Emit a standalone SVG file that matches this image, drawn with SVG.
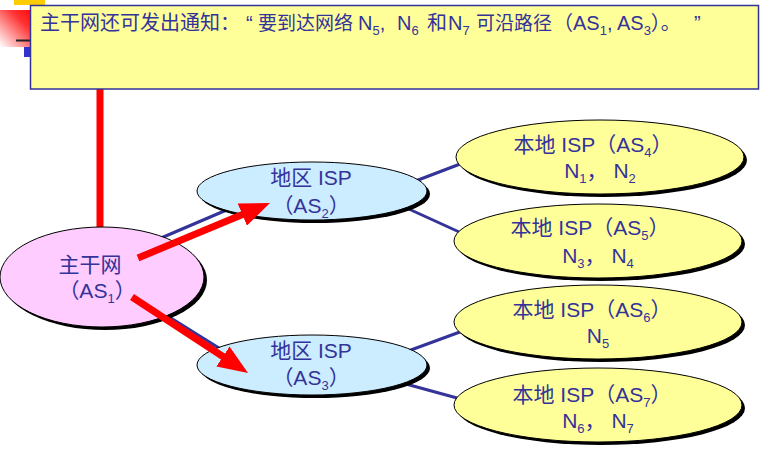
<svg xmlns="http://www.w3.org/2000/svg" width="776" height="461" viewBox="0 0 776 461">
<defs>
<style>
.t{font-family:"Liberation Sans","Noto Sans CJK SC",sans-serif;fill:#333399;}
.e{font-size:21px;text-anchor:middle;}
.sub{font-size:13px;}
.shadow{fill:#000;}
.node{stroke:#000;stroke-width:1;}
.conn{stroke:#333399;stroke-width:3;fill:none;}
.arrow{stroke:#FF0000;stroke-width:7;fill:none;marker-end:url(#ah);}
</style>
<marker id="ah" markerUnits="userSpaceOnUse" markerWidth="30" markerHeight="24" refX="10" refY="12" orient="auto">
<path d="M0,0 L30,12 L0,24 z" fill="#FF0000"/>
</marker>
<linearGradient id="rg" x1="1" y1="0" x2="0" y2="1">
<stop offset="0" stop-color="#FF0000"/>
<stop offset="0.35" stop-color="#FF3333"/>
<stop offset="1" stop-color="#FFFFFF"/>
</linearGradient>
</defs>

<g id="decor">
<rect x="14" y="0" width="31" height="5" fill="#FFCC00"/>
<rect x="0" y="10" width="36" height="37" fill="url(#rg)"/>
<line x1="16" y1="40.5" x2="31" y2="40.5" stroke="#222" stroke-width="2"/>
<rect x="24" y="47" width="6" height="10" fill="#3333CC"/>
<line x1="100" y1="89" x2="100" y2="235" stroke="#FF0000" stroke-width="7"/>
</g>

<g id="connectors">
<line class="conn" x1="140" y1="247" x2="250" y2="200"/>
<line class="conn" x1="150" y1="305" x2="235" y2="358"/>
<line class="conn" x1="405" y1="185" x2="468" y2="161"/>
<line class="conn" x1="400" y1="205" x2="468" y2="236"/>
<line class="conn" x1="400" y1="354" x2="468" y2="329"/>
<line class="conn" x1="395" y1="381" x2="468" y2="401"/>
</g>

<g id="as1">
<ellipse class="shadow" cx="105" cy="280" rx="102" ry="50"/>
<ellipse class="node" cx="102" cy="277" rx="102" ry="50" fill="#FFCCFF"/>
</g>
<g id="as2">
<ellipse class="shadow" cx="315" cy="194" rx="115" ry="29"/>
<ellipse class="node" cx="312" cy="191" rx="115" ry="29" fill="#CCECFF"/>
</g>
<g id="as3">
<ellipse class="shadow" cx="315" cy="368" rx="115" ry="30"/>
<ellipse class="node" cx="312" cy="365" rx="115" ry="30" fill="#CCECFF"/>
</g>
<g id="as4">
<ellipse class="shadow" cx="603" cy="160" rx="144" ry="37"/>
<ellipse class="node" cx="600" cy="157" rx="144" ry="37" fill="#FFFF99"/>
</g>
<g id="as5">
<ellipse class="shadow" cx="601" cy="244" rx="144" ry="37"/>
<ellipse class="node" cx="598" cy="241" rx="144" ry="37" fill="#FFFF99"/>
</g>
<g id="as6">
<ellipse class="shadow" cx="601" cy="325" rx="144" ry="37"/>
<ellipse class="node" cx="598" cy="322" rx="144" ry="37" fill="#FFFF99"/>
</g>
<g id="as7">
<ellipse class="shadow" cx="601" cy="408" rx="144" ry="37"/>
<ellipse class="node" cx="598" cy="405" rx="144" ry="37" fill="#FFFF99"/>
</g>

<g id="route-arrows">
<line class="arrow" x1="138" y1="258" x2="251.5" y2="210.7"/>
<line class="arrow" x1="132" y1="297" x2="231.3" y2="362"/>
</g>

<g id="labels">
<text class="t e" x="90" y="272">主干网</text>
<text class="t e" x="97" y="298">（AS<tspan class="sub" dy="5">1</tspan><tspan dy="-5">）</tspan></text>
<text class="t e" x="311" y="185">地区 ISP</text>
<text class="t e" x="311" y="213">（AS<tspan class="sub" dy="5">2</tspan><tspan dy="-5">）</tspan></text>
<text class="t e" x="311" y="358">地区 ISP</text>
<text class="t e" x="311" y="385">（AS<tspan class="sub" dy="5">3</tspan><tspan dy="-5">）</tspan></text>
<text class="t e" x="593" y="152">本地 ISP（AS<tspan class="sub" dy="5">4</tspan><tspan dy="-5">）</tspan></text>
<text class="t e" x="600" y="178">N<tspan class="sub" dy="5">1</tspan><tspan dy="-5">， N</tspan><tspan class="sub" dy="5">2</tspan></text>
<text class="t e" x="590" y="235">本地 ISP（AS<tspan class="sub" dy="5">5</tspan><tspan dy="-5">）</tspan></text>
<text class="t e" x="598" y="263">N<tspan class="sub" dy="5">3</tspan><tspan dy="-5">， N</tspan><tspan class="sub" dy="5">4</tspan></text>
<text class="t e" x="592" y="317">本地 ISP（AS<tspan class="sub" dy="5">6</tspan><tspan dy="-5">）</tspan></text>
<text class="t e" x="598" y="343">N<tspan class="sub" dy="5">5</tspan></text>
<text class="t e" x="592" y="402">本地 ISP（AS<tspan class="sub" dy="5">7</tspan><tspan dy="-5">）</tspan></text>
<text class="t e" x="598" y="428">N<tspan class="sub" dy="5">6</tspan><tspan dy="-5">， N</tspan><tspan class="sub" dy="5">7</tspan></text>
</g>

<g id="callout">
<rect x="30.5" y="5.5" width="728" height="83.5" fill="#FFFF99" stroke="#333399" stroke-width="1.5"/>
<text class="t" y="30" font-size="20"><tspan x="40">主干网还可发出通知：</tspan><tspan x="246">“</tspan><tspan x="258" font-size="19">要到达网络</tspan><tspan x="358">N</tspan><tspan class="sub" dy="5">5</tspan><tspan dy="-5">,</tspan><tspan x="397">N</tspan><tspan class="sub" dy="5">6</tspan><tspan x="427" dy="-5">和</tspan><tspan x="448">N</tspan><tspan class="sub" dy="5">7</tspan><tspan x="476" dy="-5" font-size="19">可沿路径</tspan><tspan x="553">（AS</tspan><tspan class="sub" dy="5">1</tspan><tspan dy="-5">, AS</tspan><tspan class="sub" dy="5">3</tspan><tspan dy="-5">）。</tspan><tspan x="694">”</tspan></text>
</g>
</svg>
